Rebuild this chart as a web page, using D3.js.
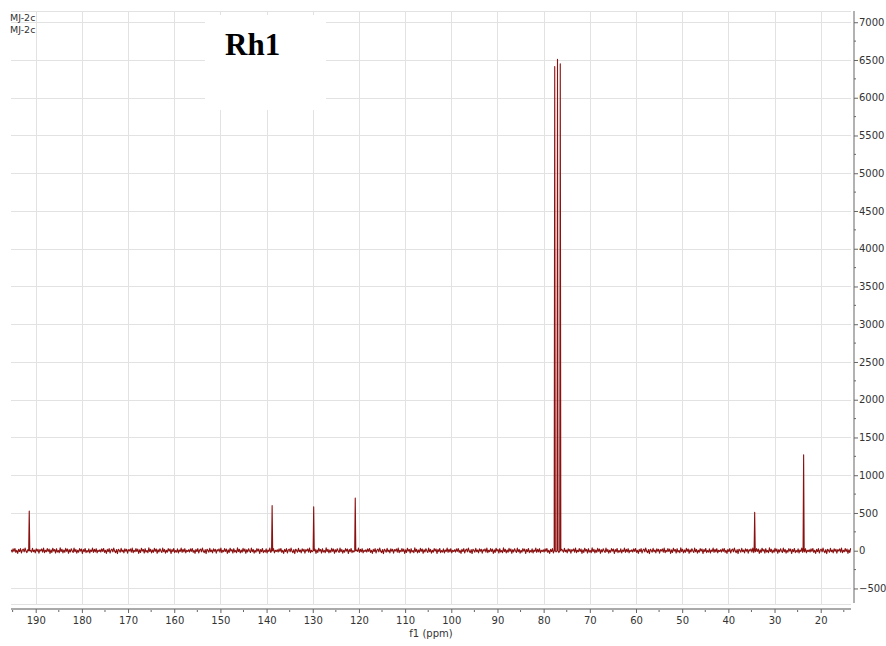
<!DOCTYPE html>
<html>
<head>
<meta charset="utf-8">
<script src="https://cdn.jsdelivr.net/npm/d3@7/dist/d3.min.js"></script>
<style>
  html, body { margin: 0; padding: 0; background: #fff; }
  svg { display: block; }
</style>
</head>
<body>
<svg id="chart" width="886" height="646"></svg>
<script>
// 13C NMR spectrum of Rh1 (CDCl3), f1 axis in ppm

// Peak positions (ppm) and intensities
const peakPpm    = [191.4, 138.8, 129.8, 120.8, 77.6, 77.0, 76.4, 34.3, 23.7];
const peakHeight = [526,   597,   583,   699,   6413, 6508, 6451, 509,  1269];

// Baseline noise intensities, sampled every 0.2 ppm and repeated along the trace
const baselineNoise = [
  12, -18, 25, -8, 30, -22, 5, -35, 18, -10, 28, -30, 8, 22, -15, 35,
  -5, -25, 15, -38, 20, 4, -20, 32, -12, 10, -28, 26, -6, 18, -33, 14,
  -2, 24, -19, 36, -26, 6, -14, 29, -9, 21, -36, 11, -23, 33, -4, 16,
  -31, 27, -17, 3, -27, 38, -11, 19, -29, 9, -21, 31, -7, 23, -34, 13,
  -16, 26, -1, -24, 34, -13, 17, -32, 7, -20, 28, -3, 22, -37, 15, -12,
  30, -25, 2, -18, 25, -30, 10, -8, 35, -22, 19, -15, 27, -28, 6, -10
];

// Axis ticks
const xTicks = [190, 180, 170, 160, 150, 140, 130, 120, 110, 100, 90, 80, 70, 60, 50, 40, 30, 20];
const yTicks = [-500, 0, 500, 1000, 1500, 2000, 2500, 3000, 3500, 4000, 4500, 5000, 5500, 6000, 6500, 7000];

const titleText = "Rh1";
const sampleLabels = ["MJ-2c", "MJ-2c"];

const svg = d3.select("#chart");
const plot = { left: 11, right: 851, top: 11, bottom: 605 };

const x = d3.scaleLinear().domain([195.35, 13.44]).range([plot.left, plot.right]);
const y = d3.scaleLinear().domain([-719, 7149]).range([plot.bottom, plot.top]);

// Build the trace: noise samples plus narrow peak shapes
const step = 0.2;
const halfWidth = 0.12;
const trace = [];
let i = 0;
for (let p = 195.3; p >= 13.5; p -= step, i++) {
  const near = peakPpm.some(pk => Math.abs(p - pk) < halfWidth + 0.05);
  if (!near) trace.push([p, baselineNoise[i % baselineNoise.length]]);
}
peakPpm.forEach((pk, k) => {
  trace.push([pk + halfWidth, 0]);
  trace.push([pk, peakHeight[k]]);
  trace.push([pk - halfWidth, 0]);
});
trace.sort((a, b) => b[0] - a[0]);

// Grid
const grid = svg.append("g").attr("stroke", "#e2e2e2").attr("stroke-width", 1);
grid.selectAll("line.h").data(yTicks).join("line")
  .attr("x1", plot.left).attr("x2", plot.right)
  .attr("y1", d => Math.round(y(d)) + 0.5).attr("y2", d => Math.round(y(d)) + 0.5);
grid.selectAll("line.v").data(xTicks).join("line")
  .attr("y1", plot.top).attr("y2", plot.bottom)
  .attr("x1", d => Math.round(x(d)) + 0.5).attr("x2", d => Math.round(x(d)) + 0.5);
grid.append("line").attr("x1", plot.left).attr("x2", plot.right)
  .attr("y1", plot.top + 0.5).attr("y2", plot.top + 0.5);
grid.append("line").attr("x1", plot.left).attr("x2", plot.right)
  .attr("y1", plot.bottom - 0.5).attr("y2", plot.bottom - 0.5);

// Spectrum trace
svg.append("defs").append("clipPath").attr("id", "clip")
  .append("rect").attr("x", plot.left).attr("y", plot.top)
  .attr("width", plot.right - plot.left).attr("height", plot.bottom - plot.top);

const line = d3.line().x(d => x(d[0])).y(d => y(d[1]));
svg.append("path")
  .datum(trace)
  .attr("clip-path", "url(#clip)")
  .attr("fill", "none")
  .attr("stroke", "#8b1010")
  .attr("stroke-width", 1.1)
  .attr("stroke-linejoin", "round")
  .attr("d", line);

// Title box
svg.append("rect").attr("x", 205).attr("y", 15).attr("width", 121).attr("height", 95).attr("fill", "#fff");
svg.append("text").attr("x", 225).attr("y", 55)
  .attr("font-family", "'Liberation Serif', 'Times New Roman', serif")
  .attr("font-weight", "bold").attr("font-size", 31).attr("fill", "#000")
  .text(titleText);

// Sample labels
svg.selectAll("text.sample").data(sampleLabels).join("text")
  .attr("class", "sample")
  .attr("x", 10).attr("y", (d, k) => 21 + k * 12)
  .attr("font-family", "'DejaVu Sans', sans-serif").attr("font-size", 9.5)
  .attr("fill", "#333").text(d => d);

// Bottom axis (ppm)
const xMinor = d3.range(195, 13, -5).filter(v => v % 10 !== 0);
const xAxisG = svg.append("g").attr("transform", `translate(0,${609})`);
xAxisG.append("line").attr("x1", plot.left).attr("x2", plot.right)
  .attr("y1", 0).attr("y2", 0).attr("stroke", "#aaa").attr("stroke-width", 2);
xAxisG.call(d3.axisBottom(x).tickValues(xTicks).tickSize(4).tickPadding(4).tickFormat(d3.format("d")))
  .call(g => g.select(".domain").remove())
  .call(g => g.selectAll(".tick line").attr("stroke", "#666"))
  .call(g => g.selectAll(".tick text").attr("font-family", "'DejaVu Sans', sans-serif")
    .attr("font-size", 10).attr("fill", "#333"));
xAxisG.selectAll("line.minor").data(xMinor).join("line").attr("class", "minor")
  .attr("x1", d => x(d)).attr("x2", d => x(d)).attr("y1", 1).attr("y2", 3)
  .attr("stroke", "#666");

svg.append("text").attr("x", (plot.left + plot.right) / 2).attr("y", 637)
  .attr("text-anchor", "middle")
  .attr("font-family", "'DejaVu Sans', sans-serif").attr("font-size", 10).attr("fill", "#333")
  .text("f1 (ppm)");

// Right axis (intensity)
const yMinor = d3.range(-750, 7150, 250).filter(v => v % 500 !== 0);
const yAxisG = svg.append("g").attr("transform", `translate(${854},0)`);
yAxisG.append("line").attr("x1", 0).attr("x2", 0)
  .attr("y1", plot.top).attr("y2", 603).attr("stroke", "#999").attr("stroke-width", 1.5);
yAxisG.call(d3.axisRight(y).tickValues(yTicks).tickSize(4).tickPadding(1).tickFormat(d3.format("d")))
  .call(g => g.select(".domain").remove())
  .call(g => g.selectAll(".tick line").attr("stroke", "#666"))
  .call(g => g.selectAll(".tick text").attr("font-family", "'DejaVu Sans', sans-serif")
    .attr("font-size", 10).attr("fill", "#333"));
yAxisG.selectAll("line.minor").data(yMinor.filter(v => y(v) > plot.top && y(v) < plot.bottom))
  .join("line").attr("class", "minor")
  .attr("y1", d => y(d)).attr("y2", d => y(d)).attr("x1", 0).attr("x2", 2)
  .attr("stroke", "#666");
</script>
</body>
</html>
